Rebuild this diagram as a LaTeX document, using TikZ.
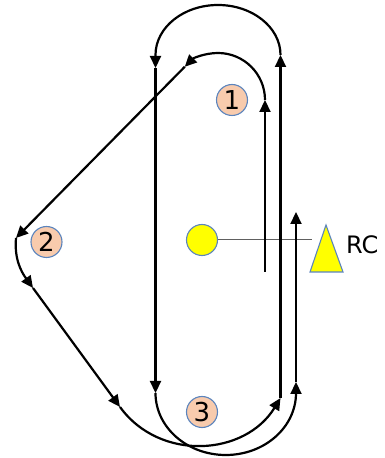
\documentclass[tikz,border=0pt]{standalone}
\usepackage{fontspec}
\setmainfont{DejaVu Sans}
\usetikzlibrary{arrows.meta}
\definecolor{peach}{HTML}{F8CBAD}
\definecolor{bord}{HTML}{5B84BD}
\definecolor{sunyel}{HTML}{FFFF00}
\definecolor{gline}{HTML}{606060}
\begin{document}
\begin{tikzpicture}[x=1pt,y=1pt,
  traj/.style={line width=2.2pt, -{Triangle[length=12pt,width=11pt]}},
  numc/.style={circle, draw=bord, line width=1.1pt, fill=peach, minimum size=31pt, inner sep=0pt, font=\fontsize{26}{26}\selectfont},
  sunc/.style={circle, draw=bord, line width=1.1pt, fill=sunyel, minimum size=31pt, inner sep=0pt},
  thin gray/.style={draw=gline, line width=1pt}
]
\useasboundingbox (0,0) rectangle (384,458);

% nodes
\node[numc] (n1) at (232,358) {1};
\node[numc] (n2) at (46.5,216) {2};
\node[numc] (n3) at (202,46) {3};
\node[sunc] (sun) at (202,218) {};
\coordinate (rcl) at (312,218);
\draw[thin gray] (sun.east) -- (rcl);
\draw[draw=bord, line width=1.1pt, fill=sunyel] (310,186) -- (326,233) -- (343,186) -- cycle;
\node[anchor=base west, inner sep=0pt, font=\fontsize{24}{24}\selectfont] (rc) at (346,204) {RC};

% trajectory
\coordinate (a0) at (265,186);
\coordinate (a1) at (265,358);
\draw[traj] (a0) -- (a1);
\draw[traj] (a1) arc[start angle=0,end angle=135,radius=47pt] coordinate (a2);
\coordinate (a3) at (16,220);
\draw[traj] (a2) -- (a3);
\coordinate (a4) at (33,170);
\draw[traj] (a3) to[out=-95,in=126] (a4);
\coordinate (a5) at (120,51);
\draw[traj] (a4) -- (a5);
\coordinate (a6) at (280.5,60);
\draw[traj] (a5) .. controls (160,-4) and (245,2) .. (a6);
\coordinate (a7) at (280.5,403);
\draw[traj] (a6) -- (a7);
\coordinate (a8) at (155.5,390);
\draw[traj] (a7) arc[start angle=0,end angle=180,x radius=62.5pt,y radius=50pt] -- (a8);
\coordinate (a9) at (155.5,65);
\draw[traj] (a8) -- (a9);
\coordinate (a10) at (296,76);
\draw[traj] (a9) arc[start angle=180,end angle=360,x radius=70.25pt,y radius=62pt] -- (a10);
\coordinate (a11) at (296,246);
\draw[traj] (a10) -- (a11);
\end{tikzpicture}
\end{document}
